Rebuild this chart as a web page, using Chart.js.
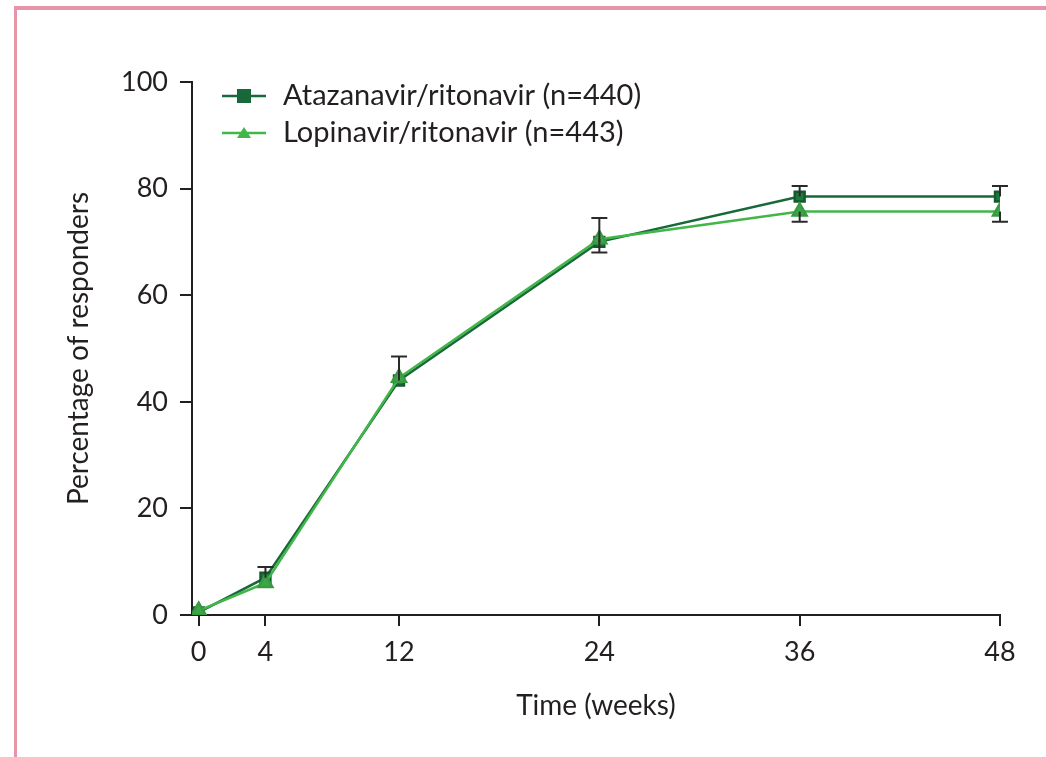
<!DOCTYPE html>
<html>
<head>
<meta charset="utf-8">
<script src="https://cdn.jsdelivr.net/npm/chart.js@4"></script>
<style>
    html, body { margin: 0; padding: 0; background: #fff; }
    #wrap { position: relative; width: 1046px; height: 757px; }
    #frame { position: absolute; left: 14px; top: 6px; width: 1040px; height: 760px;
             border-left: 3px solid #e793a8; border-top: 4px solid #e793a8; }
    canvas { position: absolute; left: 0; top: 0; }
</style>
</head>
<body>
<div id="wrap">
    <div id="frame"></div>
    <canvas id="respChart" width="1046" height="757"></canvas>
</div>
<script>
const weeks = [0, 4, 12, 24, 36, 48];
const atazanavir = [0.5, 7, 44, 70, 78.5, 78.5];
const lopinavir = [0.8, 6, 44.5, 70.5, 75.7, 75.7];
const atazanavirUpper = [null, 9, 48.5, 74.5, 80.5, 80.5];
const lopinavirLower = [null, null, null, 68, 73.8, 73.8];
const xTicks = [0, 4, 12, 24, 36, 48];
const yTicks = [0, 20, 40, 60, 80, 100];

const FONT = 'Lato, "Open Sans", sans-serif';
const darkGreen = '#17693a';
const lightGreen = '#42b649';

function toPoints(xs, ys) {
    return xs.map(function (x, i) { return { x: x, y: ys[i] }; });
}

// error bars + custom legend drawn through the chart scales
const extras = {
    id: 'extras',
    afterDatasetsDraw: function (chart) {
        const ctx = chart.ctx;
        const xs = chart.scales.x, ys = chart.scales.y;
        ctx.save();
        ctx.strokeStyle = '#2a2a2a';
        ctx.lineWidth = 2;
        function bar(x, from, to) {
            const px = xs.getPixelForValue(x);
            const p1 = ys.getPixelForValue(from), p2 = ys.getPixelForValue(to);
            ctx.beginPath();
            ctx.moveTo(px, p1); ctx.lineTo(px, p2);
            ctx.moveTo(px - 8, p2); ctx.lineTo(px + 8, p2);
            ctx.stroke();
        }
        weeks.forEach(function (w, i) {
            if (atazanavirUpper[i] !== null) bar(w, atazanavir[i], atazanavirUpper[i]);
            if (lopinavirLower[i] !== null) bar(w, lopinavir[i], lopinavirLower[i]);
        });

        // extend x axis line left to the y tick
        ctx.strokeStyle = '#231f20';
        ctx.lineWidth = 2;
        ctx.beginPath();
        ctx.moveTo(xs.left - 12, ys.bottom); ctx.lineTo(xs.left, ys.bottom);
        ctx.stroke();

        // legend
        const items = [
            { label: 'Atazanavir/ritonavir (n=440)', color: darkGreen, shape: 'rect', y: 96 },
            { label: 'Lopinavir/ritonavir (n=443)', color: lightGreen, shape: 'triangle', y: 133 }
        ];
        items.forEach(function (it) {
            ctx.strokeStyle = it.color;
            ctx.lineWidth = 2.5;
            ctx.beginPath();
            ctx.moveTo(222, it.y); ctx.lineTo(266, it.y);
            ctx.stroke();
            ctx.fillStyle = it.color;
            if (it.shape === 'rect') {
                ctx.fillRect(237, it.y - 7, 14, 14);
            } else {
                ctx.beginPath();
                ctx.moveTo(244, it.y - 6); ctx.lineTo(251, it.y + 5); ctx.lineTo(237, it.y + 5);
                ctx.closePath(); ctx.fill();
            }
            ctx.fillStyle = '#231f20';
            ctx.font = '29px ' + FONT;
            ctx.textBaseline = 'middle';
            ctx.fillText(it.label, 283, it.y);
        });
        ctx.restore();
    }
};

const config = {
    type: 'line',
    data: {
        datasets: [
            {
                label: 'Lopinavir/ritonavir (n=443)',
                data: toPoints(weeks, lopinavir),
                borderColor: lightGreen,
                backgroundColor: '#3aa848',
                borderWidth: 2.5,
                pointStyle: 'triangle',
                pointRadius: 8,
                pointBorderColor: '#3a9a44',
                tension: 0
            },
            {
                label: 'Atazanavir/ritonavir (n=440)',
                data: toPoints(weeks, atazanavir),
                borderColor: darkGreen,
                backgroundColor: '#1d7a3f',
                borderWidth: 2.5,
                pointStyle: 'rect',
                pointRadius: 7,
                pointBorderColor: '#145a2e',
                tension: 0
            }
        ]
    },
    options: {
        responsive: false,
        animation: false,
        layout: { padding: { top: 82, right: 46, left: 58, bottom: 30 } },
        plugins: {
            legend: { display: false },
            tooltip: { enabled: false }
        },
        scales: {
            x: {
                type: 'linear',
                min: -0.4,
                max: 48,
                afterBuildTicks: function (s) { s.ticks = xTicks.map(function (v) { return { value: v }; }); },
                afterFit: function (s) { s.height = 757 - 615 - 30; },
                grid: { display: true, drawOnChartArea: false, drawTicks: true, tickLength: 11, color: '#231f20', lineWidth: 2 },
                border: { display: true, color: '#231f20', width: 2 },
                ticks: { color: '#231f20', font: { family: FONT, size: 27 }, padding: 10, maxRotation: 0 },
                title: { display: true, text: 'Time (weeks)', color: '#231f20', font: { family: FONT, size: 28 }, padding: { top: 10 } }
            },
            y: {
                min: 0,
                max: 100,
                afterBuildTicks: function (s) { s.ticks = yTicks.map(function (v) { return { value: v }; }); },
                afterFit: function (s) { s.width = 192 - 58; },
                grid: { display: true, drawOnChartArea: false, drawTicks: true, tickLength: 12, color: '#231f20', lineWidth: 2 },
                border: { display: true, color: '#231f20', width: 2 },
                ticks: { color: '#231f20', font: { family: FONT, size: 27 }, padding: 12 },
                title: { display: true, text: 'Percentage of responders', color: '#231f20', font: { family: FONT, size: 28 }, padding: { bottom: 14 } }
            }
        }
    },
    plugins: [extras]
};

new Chart(document.getElementById('respChart'), config);
</script>
</body>
</html>
